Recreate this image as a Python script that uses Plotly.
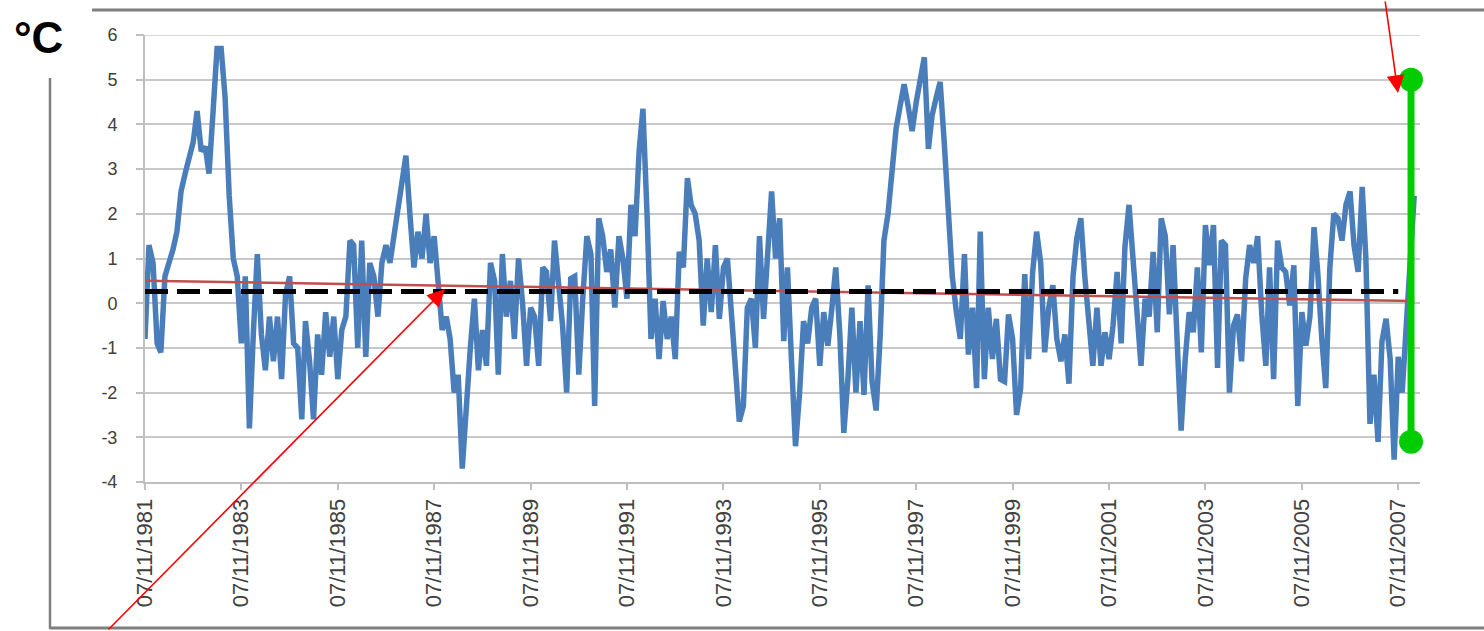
import pandas as pd
import plotly.graph_objects as go

# ---------------- data ----------------
start_date = "1981-11-07"
anomaly = [
    -0.8, 1.3, 0.9, -0.9, -1.1, 0.6, 0.9, 1.2, 1.6, 2.5, 2.9, 3.2, 3.6, 4.3, 3.4, 3.5, 2.9, 4.3, 5.7, 5.7,
    4.6, 2.4, 1.0, 0.6, -0.9, 0.6, -2.8, -0.6, 1.1, -0.7, -1.5, -0.3, -1.3, -0.3, -1.7, 0.2, 0.6, -0.9, -1.0, -2.6,
    -0.4, -1.3, -2.6, -0.7, -1.6, -0.2, -1.2, -0.3, -1.7, -0.6, -0.3, 1.4, 1.3, -1.0, 1.4, -1.2, 0.9, 0.6, -0.3, 0.9,
    1.3, 0.9, 1.5, 2.0, 2.6, 3.3, 2.0, 0.8, 1.6, 1.0, 2.0, 0.9, 1.5, 0.6, -0.6, -0.3, -0.8, -2.0, -1.6, -3.7,
    -2.3, -1.0, 0.1, -1.5, -0.6, -1.4, 0.9, 0.5, -1.6, 1.1, -0.3, 0.5, -0.8, 1.0, 0.0, -1.4, -0.1, -0.3, -1.4, 0.8,
    0.7, -0.4, 1.4, 0.3, -0.5, -2.0, 0.55, 0.6, -1.6, 0.1, 1.5, 1.1, -2.3, 1.9, 1.5, 0.7, 1.2, -0.1, 1.5, 1.0,
    0.1, 2.2, 1.5, 3.4, 4.35, 2.0, -0.8, 0.1, -1.25, 0.05, -0.8, -0.3, -1.25, 1.15, 0.8, 2.8, 2.2, 2.0, 1.4, -0.5,
    1.0, -0.2, 1.3, -0.35, 0.8, 1.0, -0.5, -1.5, -2.65, -2.3, -0.1, 0.1, -1.0, 1.5, -0.35, 1.0, 2.5, 1.0, 1.9, -0.85,
    0.8, -1.3, -3.2, -2.0, -0.4, -0.9, -0.1, 0.1, -1.4, -0.2, -0.95, -0.1, 0.8, -0.7, -2.9, -1.7, -0.1, -2.0, -0.4, -2.05,
    0.4, -1.75, -2.4, -0.7, 1.4, 2.0, 3.0, 3.9, 4.4, 4.9, 4.4, 3.85, 4.5, 4.95, 5.5, 3.45, 4.2, 4.6, 4.95, 3.6,
    2.3, 0.6, -0.2, -0.8, 1.1, -1.15, -0.1, -1.9, 1.6, -1.7, -0.1, -1.25, -0.35, -1.7, -1.75, -0.25, -0.8, -2.5, -1.9, 0.65,
    -1.25, 0.7, 1.6, 0.9, -1.1, -0.1, 0.4, -0.8, -1.3, -0.7, -1.8, 0.6, 1.45, 1.9, 0.6, -0.5, -1.4, -0.1, -1.4, -0.65,
    -1.25, -0.5, 0.7, -0.9, 1.25, 2.2, 1.0, -0.1, -1.4, 0.1, -0.3, 1.15, -0.65, 1.9, 1.5, -0.25, 1.3, -0.85, -2.85, -1.25,
    -0.2, -0.65, 0.8, -1.1, 1.75, 0.85, 1.75, -1.45, 1.4, 1.3, -2.0, -0.5, -0.25, -1.3, 0.55, 1.3, 0.9, 1.5, -0.25, -1.4,
    0.8, -1.7, 1.4, 0.8, 0.7, -0.05, 0.85, -2.3, -0.2, -0.95, -0.3, 1.7, 0.7, -0.8, -1.9, 0.8, 2.0, 1.9, 1.4, 2.2,
    2.5, 1.3, 0.7, 2.6, 1.0, -2.7, -1.6, -3.1, -0.85, -0.35, -1.25, -3.5, -1.2, -2.0, -0.5, 0.5, 2.4,
]

trend_dates = ["1981-11-07", "2008-03-07"]
trend_values = [0.5, 0.05]

mean_dates = ["1981-11-07", "2007-11-07"]
mean_values = [0.26, 0.26]

range_dates = ["2008-02-12", "2008-02-12"]
range_values = [-3.1, 5.0]

tick_dates = ["1981-11-07", "1983-11-07", "1985-11-07", "1987-11-07", "1989-11-07", "1991-11-07", "1993-11-07",
              "1995-11-07", "1997-11-07", "1999-11-07", "2001-11-07", "2003-11-07", "2005-11-07", "2007-11-07"]
tick_labels = ["07/11/1981", "07/11/1983", "07/11/1985", "07/11/1987", "07/11/1989", "07/11/1991", "07/11/1993",
               "07/11/1995", "07/11/1997", "07/11/1999", "07/11/2001", "07/11/2003", "07/11/2005", "07/11/2007"]
y_ticks = [-4, -3, -2, -1, 0, 1, 2, 3, 4, 5, 6]
y_labels = ["-4", "-3", "-2", "-1", "0", "1", "2", "3", "4", "5", "6"]

dates = pd.date_range(start_date, periods=len(anomaly), freq=pd.DateOffset(months=1))

# ---------------- figure ----------------
W, H = 1484, 631
ML, MR, MT, MB = 145, 64, 35, 149
PW, PH = W - ML - MR, H - MT - MB


def px_x(px):
    return (px - ML) / PW


def px_y(py):
    return (H - MB - py) / PH


fig = go.Figure()
fig.add_trace(go.Scatter(x=dates, y=anomaly, mode="lines",
                         line=dict(color="#4a7ebb", width=5.5), hoverinfo="skip"))
fig.add_trace(go.Scatter(x=trend_dates, y=trend_values, mode="lines",
                         line=dict(color="#c0504d", width=2.5), hoverinfo="skip"))
fig.add_trace(go.Scatter(x=mean_dates, y=mean_values, mode="lines",
                         line=dict(color="black", width=5, dash="23px,9px"), hoverinfo="skip"))
fig.add_trace(go.Scatter(x=range_dates, y=range_values, mode="lines+markers", yaxis="y2",
                         line=dict(color="#00cc00", width=7),
                         marker=dict(color="#00cc00", size=24), cliponaxis=False, hoverinfo="skip"))

axis_font = dict(family="Liberation Sans, Arial, sans-serif", color="#404040")

fig.update_layout(
    width=W, height=H, autosize=False,
    margin=dict(l=ML, r=MR, t=MT, b=MB),
    paper_bgcolor="white", plot_bgcolor="white",
    showlegend=False,
    xaxis=dict(type="date", range=["1981-11-07", "2008-04-20"],
               tickmode="array", tickvals=tick_dates, ticktext=tick_labels, tickangle=-90,
               tickfont=dict(size=22, **axis_font),
               ticks="outside", ticklen=6, tickcolor="#bfbfbf", tickwidth=1.5,
               showgrid=False, zeroline=False,
               showline=True, linecolor="#bfbfbf", linewidth=2),
    # main y axis: labels pushed out by long invisible ticks
    yaxis=dict(range=[-4, 6], tickmode="array", tickvals=y_ticks, ticktext=y_labels,
               tickfont=dict(size=18, **axis_font),
               ticks="outside", ticklen=22, tickcolor="rgba(0,0,0,0)",
               showgrid=True, gridcolor="#c8c8c8", gridwidth=1.5, zeroline=False,
               showline=True, linecolor="#bfbfbf", linewidth=2),
    # overlay y axis: only the short visible tick marks
    yaxis2=dict(range=[-4, 6], overlaying="y", side="left", tickmode="array", tickvals=y_ticks,
                showticklabels=False, ticks="outside", ticklen=8, tickcolor="#bfbfbf", tickwidth=1.5,
                showgrid=False, zeroline=False, showline=False),
)

# top gridline at 6 (in case edge gridline is suppressed)
fig.add_shape(type="line", xref="paper", yref="y", x0=0, x1=1, y0=6, y1=6,
              line=dict(color="#c8c8c8", width=1.5), layer="below")

# outer frame lines
frame = dict(color="#7f7f7f", width=3)
fig.add_shape(type="line", xref="paper", yref="paper", x0=px_x(92), x1=px_x(1484), y0=px_y(10), y1=px_y(10), line=frame)
fig.add_shape(type="line", xref="paper", yref="paper", x0=px_x(50), x1=px_x(50), y0=px_y(78), y1=px_y(629), line=dict(color="#7f7f7f", width=2.5))
fig.add_shape(type="line", xref="paper", yref="paper", x0=px_x(50), x1=px_x(1484), y0=px_y(628), y1=px_y(628), line=frame)

# unit label
fig.add_annotation(xref="paper", yref="paper", x=px_x(38), y=px_y(38), text="<b>°C</b>", showarrow=False,
                   xanchor="center", yanchor="middle",
                   font=dict(family="Liberation Sans, Arial, sans-serif", size=44, color="black"))

# red arrows
fig.add_annotation(xref="paper", yref="paper", x=px_x(445), y=px_y(289), text="", showarrow=True,
                   ax=107 - 445, ay=633 - 289, arrowcolor="red", arrowwidth=1.6, arrowhead=2, arrowsize=2.2,
                   standoff=0)
fig.add_annotation(xref="paper", yref="paper", x=px_x(1398), y=px_y(93), text="", showarrow=True,
                   ax=1385 - 1398, ay=-5 - 93, arrowcolor="red", arrowwidth=1.6, arrowhead=2, arrowsize=2.2,
                   standoff=0)

fig.write_html("out.html", config={"displayModeBar": False},
               post_script="document.body.style.margin='0px';")
